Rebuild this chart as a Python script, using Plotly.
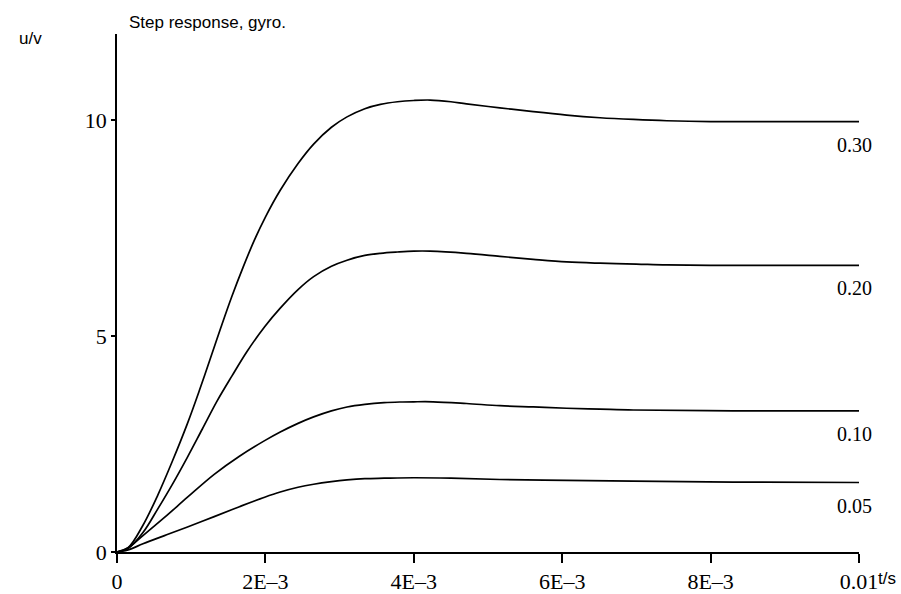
import plotly.graph_objects as go

# time in milliseconds (converted to seconds below)
t30 = [0, 0.15, 0.35, 0.55, 0.75, 0.95, 1.11, 1.25, 1.40, 1.55, 1.70, 1.85, 2.00, 2.20, 2.44, 2.65, 2.89, 3.10, 3.34, 3.55, 3.78, 4.00, 4.22, 4.50, 4.71, 5.16, 5.61, 6.06, 6.51, 6.96, 7.41, 8.00, 9.00, 10.0]
u30 = [0, 0.10, 0.62, 1.32, 2.12, 2.98, 3.74, 4.44, 5.20, 5.93, 6.60, 7.22, 7.76, 8.38, 9.00, 9.45, 9.84, 10.08, 10.27, 10.37, 10.43, 10.46, 10.47, 10.43, 10.38, 10.29, 10.20, 10.12, 10.06, 10.02, 9.99, 9.97, 9.97, 9.97]

t20 = [0, 0.15, 0.35, 0.55, 0.75, 0.95, 1.15, 1.35, 1.55, 1.75, 1.99, 2.20, 2.44, 2.65, 2.89, 3.10, 3.34, 3.55, 3.78, 4.00, 4.22, 4.71, 5.16, 5.61, 6.06, 6.51, 7.00, 7.41, 8.30, 9.20, 10.0]
u20 = [0, 0.08, 0.45, 1.00, 1.58, 2.20, 2.85, 3.50, 4.08, 4.64, 5.22, 5.65, 6.08, 6.38, 6.62, 6.76, 6.87, 6.92, 6.95, 6.97, 6.97, 6.92, 6.85, 6.78, 6.72, 6.69, 6.67, 6.65, 6.64, 6.64, 6.64]

t10 = [0, 0.15, 0.35, 0.64, 0.95, 1.31, 1.65, 1.99, 2.20, 2.44, 2.65, 2.89, 3.10, 3.34, 3.60, 3.81, 4.00, 4.26, 4.71, 5.16, 5.61, 6.06, 6.51, 6.96, 8.30, 10.0]
u10 = [0, 0.10, 0.38, 0.80, 1.27, 1.80, 2.22, 2.58, 2.78, 2.98, 3.13, 3.27, 3.36, 3.42, 3.46, 3.475, 3.48, 3.48, 3.44, 3.39, 3.36, 3.33, 3.31, 3.29, 3.27, 3.27]

t05 = [0, 0.15, 0.35, 0.64, 0.95, 1.31, 1.65, 1.99, 2.20, 2.44, 2.65, 2.89, 3.10, 3.34, 3.60, 4.00, 4.50, 5.16, 6.06, 6.96, 8.30, 10.0]
u05 = [0, 0.05, 0.19, 0.38, 0.58, 0.82, 1.05, 1.27, 1.39, 1.50, 1.57, 1.63, 1.67, 1.70, 1.71, 1.72, 1.71, 1.68, 1.66, 1.64, 1.62, 1.61]

series_labels = ["0.30", "0.20", "0.10", "0.05"]
x_tickvals = [0, 0.002, 0.004, 0.006, 0.008, 0.01]
x_ticktext = ["0", "2E\u20133", "4E\u20133", "6E\u20133", "8E\u20133", "0.01"]
y_tickvals = [0, 5, 10]
y_ticktext = ["0", "5", "10"]

series = [(t30, u30), (t20, u20), (t10, u10), (t05, u05)]

fig = go.Figure()
for (t, u), lab in zip(series, series_labels):
    fig.add_trace(go.Scatter(
        x=[v / 1000.0 for v in t], y=u, mode="lines",
        line=dict(color="black", width=1.7, shape="spline", smoothing=1.0),
        name=lab, showlegend=False, hoverinfo="skip"))
    fig.add_annotation(x=t[-1] / 1000.0, y=u[-1], xref="x", yref="y",
                       text=lab, showarrow=False, xanchor="left", yanchor="middle",
                       xshift=-24, yshift=-23,
                       font=dict(family="Liberation Serif", size=20, color="black"))

serif = dict(family="Liberation Serif", size=22, color="black")
sans = dict(family="Liberation Sans", size=17, color="black")

fig.update_layout(
    width=901, height=594,
    margin=dict(l=117, r=42, t=34, b=42, autoexpand=False),
    paper_bgcolor="white", plot_bgcolor="white",
    xaxis=dict(range=[0, 0.01], tickvals=x_tickvals, ticktext=x_ticktext,
               showgrid=False, zeroline=False, showline=True, linecolor="black",
               linewidth=1.5, ticks="outside", ticklen=9, tickwidth=1.5,
               tickcolor="black", tickfont=serif, automargin=False),
    yaxis=dict(range=[0, 12], tickvals=y_tickvals, ticktext=y_ticktext,
               showgrid=False, zeroline=False, showline=True, linecolor="black",
               linewidth=1.5, ticks="outside", ticklen=4, tickwidth=1.5,
               tickcolor="black", tickfont=serif, automargin=False),
)

fig.add_annotation(x=127, y=22, xref="paper", yref="paper", text="Step response, gyro.",
                   showarrow=False, xanchor="left", yanchor="middle", font=sans)
fig.add_annotation(x=17, y=39, xref="paper", yref="paper", text="u/v",
                   showarrow=False, xanchor="left", yanchor="middle", font=sans)
fig.add_annotation(x=876, y=578, xref="paper", yref="paper", text="t/s",
                   showarrow=False, xanchor="left", yanchor="middle", font=sans)

# convert pixel-positioned annotations to paper coords
pw = 901 - 117 - 42
ph = 594 - 34 - 42
for a in fig.layout.annotations:
    if a.xref == "paper":
        a.x = (a.x - 117) / pw
        a.y = 1 - (a.y - 34) / ph

fig.write_html("out.html")
